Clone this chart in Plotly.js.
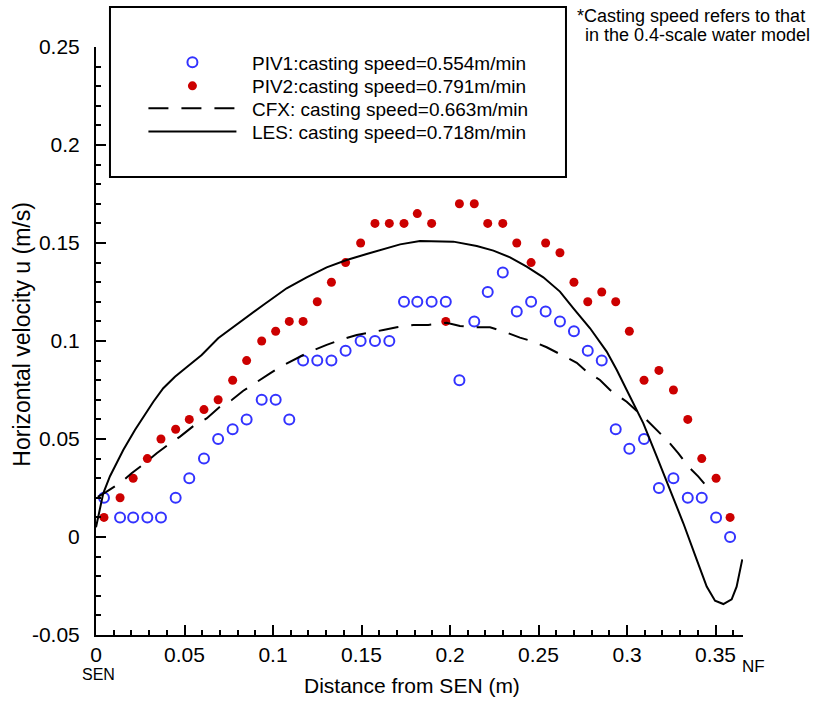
<!DOCTYPE html>
<html>
<head>
<meta charset="utf-8">
<script src="https://cdn.plot.ly/plotly-3.0.1.min.js"></script>
<style>html,body{margin:0;padding:0;background:#fff}#chart{width:818px;height:702px}</style>
</head>
<body>
<div id="chart"></div>
<script>
// Measurement positions (m from SEN)
const piv_x = [0.0045,0.0136,0.021,0.029,0.0367,0.045,0.0527,0.061,0.069,0.0772,0.0851,0.0936,0.1015,0.1092,0.117,0.125,0.133,0.141,0.1495,0.1576,0.1657,0.174,0.1815,0.1896,0.1976,0.2053,0.2137,0.2213,0.2298,0.2377,0.2458,0.254,0.2621,0.27,0.2778,0.2857,0.2936,0.3013,0.3096,0.318,0.3262,0.3343,0.3422,0.3503,0.3582];
// PIV1: casting speed 0.554 m/min
const piv1_u = [0.02,0.01,0.01,0.01,0.01,0.02,0.03,0.04,0.05,0.055,0.06,0.07,0.07,0.06,0.09,0.09,0.09,0.095,0.1,0.1,0.1,0.12,0.12,0.12,0.12,0.08,0.11,0.125,0.135,0.115,0.12,0.115,0.11,0.105,0.095,0.09,0.055,0.045,0.05,0.025,0.03,0.02,0.02,0.01,0.0];
// PIV2: casting speed 0.791 m/min
const piv2_u = [0.01,0.02,0.03,0.04,0.05,0.055,0.06,0.065,0.07,0.08,0.09,0.1,0.105,0.11,0.11,0.12,0.13,0.14,0.15,0.16,0.16,0.16,0.165,0.16,0.11,0.17,0.17,0.16,0.16,0.15,0.14,0.15,0.145,0.13,0.12,0.125,0.12,0.105,0.08,0.085,0.075,0.06,0.04,0.03,0.01];
// CFX: casting speed 0.663 m/min
const cfx_x = [0.001,0.0058,0.0143,0.0201,0.0286,0.0343,0.0418,0.0475,0.055,0.0625,0.0701,0.0767,0.0832,0.0908,0.0983,0.1049,0.1134,0.1209,0.1303,0.1379,0.1473,0.1529,0.1623,0.1699,0.1793,0.1877,0.1981,0.2056,0.2151,0.2226,0.232,0.2395,0.2471,0.2546,0.2631,0.2716,0.2772,0.2847,0.2904,0.2998,0.3111,0.3168,0.3234,0.329,0.3347,0.3403,0.3459];
const cfx_u = [0.0205,0.023,0.028,0.0325,0.0384,0.0427,0.0478,0.0512,0.0566,0.0605,0.0665,0.0699,0.0746,0.0792,0.0835,0.0872,0.0912,0.0946,0.098,0.1005,0.1031,0.1039,0.1056,0.107,0.1082,0.1082,0.1093,0.1077,0.107,0.107,0.1043,0.1017,0.0997,0.0968,0.0929,0.0889,0.0843,0.0801,0.075,0.069,0.0597,0.0546,0.0486,0.0427,0.0359,0.0308,0.0248];
// LES: casting speed 0.718 m/min
const les_x = [0.0,0.0041,0.0079,0.0154,0.022,0.0267,0.0324,0.038,0.0446,0.0503,0.0597,0.069,0.0814,0.0945,0.1077,0.119,0.1303,0.1416,0.1529,0.1623,0.1718,0.183,0.2019,0.2151,0.2245,0.2339,0.2433,0.2527,0.2621,0.2697,0.2791,0.2885,0.2942,0.2998,0.3092,0.3168,0.3243,0.3318,0.3394,0.345,0.3497,0.3544,0.3591,0.3619,0.3651];
const les_u = [0.005,0.0223,0.031,0.0444,0.0546,0.0614,0.069,0.0759,0.0818,0.086,0.0929,0.1014,0.1098,0.1184,0.1269,0.1325,0.1376,0.1413,0.1444,0.1468,0.1493,0.151,0.1507,0.1485,0.1461,0.1427,0.1379,0.1325,0.1252,0.1167,0.1065,0.0946,0.0852,0.075,0.058,0.041,0.024,0.007,-0.0117,-0.0253,-0.0325,-0.0342,-0.0318,-0.0253,-0.0114];

const seriesNames = ['PIV1:casting speed=0.554m/min','PIV2:casting speed=0.791m/min','CFX: casting speed=0.663m/min','LES: casting speed=0.718m/min'];

const yTickVals = [-0.05,0,0.05,0.1,0.15,0.2,0.25];
const yTickText = ['-0.05','0','0.05','0.1','0.15','0.2','0.25'];
const xTickVals = [0,0.05,0.1,0.15,0.2,0.25,0.3,0.35];
const xTickText = ['0','0.05','0.1','0.15','0.2','0.25','0.3','0.35'];

const FONT = 'Liberation Sans, Arial, sans-serif';
const PAD = '\u00a0\u00a0';

const traces = [
  {x: piv_x, y: piv1_u, type: 'scatter', mode: 'markers', legend: 'legend',
   name: PAD + seriesNames[0],
   marker: {symbol: 'circle-open', size: 10, color: '#3333ff', line: {width: 2, color: '#3333ff'}}},
  {x: piv_x, y: piv2_u, type: 'scatter', mode: 'markers', legend: 'legend2',
   name: PAD + seriesNames[1],
   marker: {symbol: 'circle', size: 9, color: '#cc0000'}},
  {x: cfx_x, y: cfx_u, type: 'scatter', mode: 'lines', legend: 'legend3',
   name: PAD + seriesNames[2],
   line: {color: '#000', width: 2, dash: '20px,13px'}},
  {x: les_x, y: les_u, type: 'scatter', mode: 'lines', legend: 'legend4',
   name: PAD + seriesNames[3],
   line: {color: '#000', width: 2}}
];

function leg(y) {
  return {x: 0.0733, y: y, xanchor: 'left', yanchor: 'middle',
          bgcolor: 'rgba(0,0,0,0)', borderwidth: 0,
          font: {family: FONT, size: 19, color: '#000'}, itemwidth: 88};
}

const layout = {
  width: 818, height: 702,
  margin: {l: 96, r: 75, t: 47, b: 67},
  paper_bgcolor: '#fff', plot_bgcolor: '#fff',
  font: {family: FONT, color: '#000', size: 21},
  showlegend: true,
  legend: leg(0.974),
  legend2: leg(0.9337),
  legend3: leg(0.8957),
  legend4: leg(0.856),
  xaxis: {range: [0, 0.3655], showgrid: false, zeroline: false,
          showline: true, linecolor: '#000', linewidth: 2,
          tickmode: 'array', tickvals: xTickVals, ticktext: xTickText,
          ticks: 'inside', ticklen: 10, tickwidth: 2, tickcolor: '#000',
          minor: {dtick: 0.01, ticks: 'inside', ticklen: 5, tickwidth: 2, tickcolor: '#000', showgrid: false},
          tickfont: {family: FONT, size: 21}},
  yaxis: {range: [-0.05, 0.25], showgrid: false, zeroline: false,
          showline: true, linecolor: '#000', linewidth: 2,
          tickmode: 'array', tickvals: yTickVals, ticktext: yTickText,
          ticks: 'inside', ticklen: 10, tickwidth: 2, tickcolor: '#000',
          minor: {dtick: 0.01, ticks: 'inside', ticklen: 5, tickwidth: 2, tickcolor: '#000', showgrid: false},
          tickfont: {family: FONT, size: 21}, ticklabelstandoff: 10},
  shapes: [
    {type: 'rect', xref: 'paper', yref: 'paper', x0: 0.0216, x1: 0.7264, y0: 0.779, y1: 1.068,
     line: {color: '#000', width: 2}, fillcolor: 'rgba(0,0,0,0)'}
  ],
  annotations: [
    {xref: 'paper', yref: 'paper', x: -0.1148, y: 0.512, xanchor: 'center', yanchor: 'middle', showarrow: false,
     textangle: -90, text: 'Horizontal velocity u (m/s)', font: {family: FONT, size: 23}},
    {xref: 'paper', yref: 'paper', x: 0.488, y: -0.0867, xanchor: 'center', yanchor: 'middle', showarrow: false,
     text: 'Distance from SEN (m)', font: {family: FONT, size: 21}},
    {xref: 'paper', yref: 'paper', x: 0.74, y: 1.0527, xanchor: 'left', yanchor: 'middle', showarrow: false, align: 'left',
     text: '*Casting speed refers to that', font: {family: FONT, size: 18}},
    {xref: 'paper', yref: 'paper', x: 0.7527, y: 1.0204, xanchor: 'left', yanchor: 'middle', showarrow: false, align: 'left',
     text: 'in the 0.4-scale water model', font: {family: FONT, size: 18}},
    {xref: 'paper', yref: 'paper', x: 0.0046, y: -0.0675, xanchor: 'center', yanchor: 'middle', showarrow: false,
     text: 'SEN', font: {family: FONT, size: 16}},
    {xref: 'paper', yref: 'paper', x: 1.017, y: -0.0544, xanchor: 'center', yanchor: 'middle', showarrow: false,
     text: 'NF', font: {family: FONT, size: 17}}
  ]
};

Plotly.newPlot('chart', traces, layout, {displayModeBar: false, staticPlot: true});
</script>
</body>
</html>
